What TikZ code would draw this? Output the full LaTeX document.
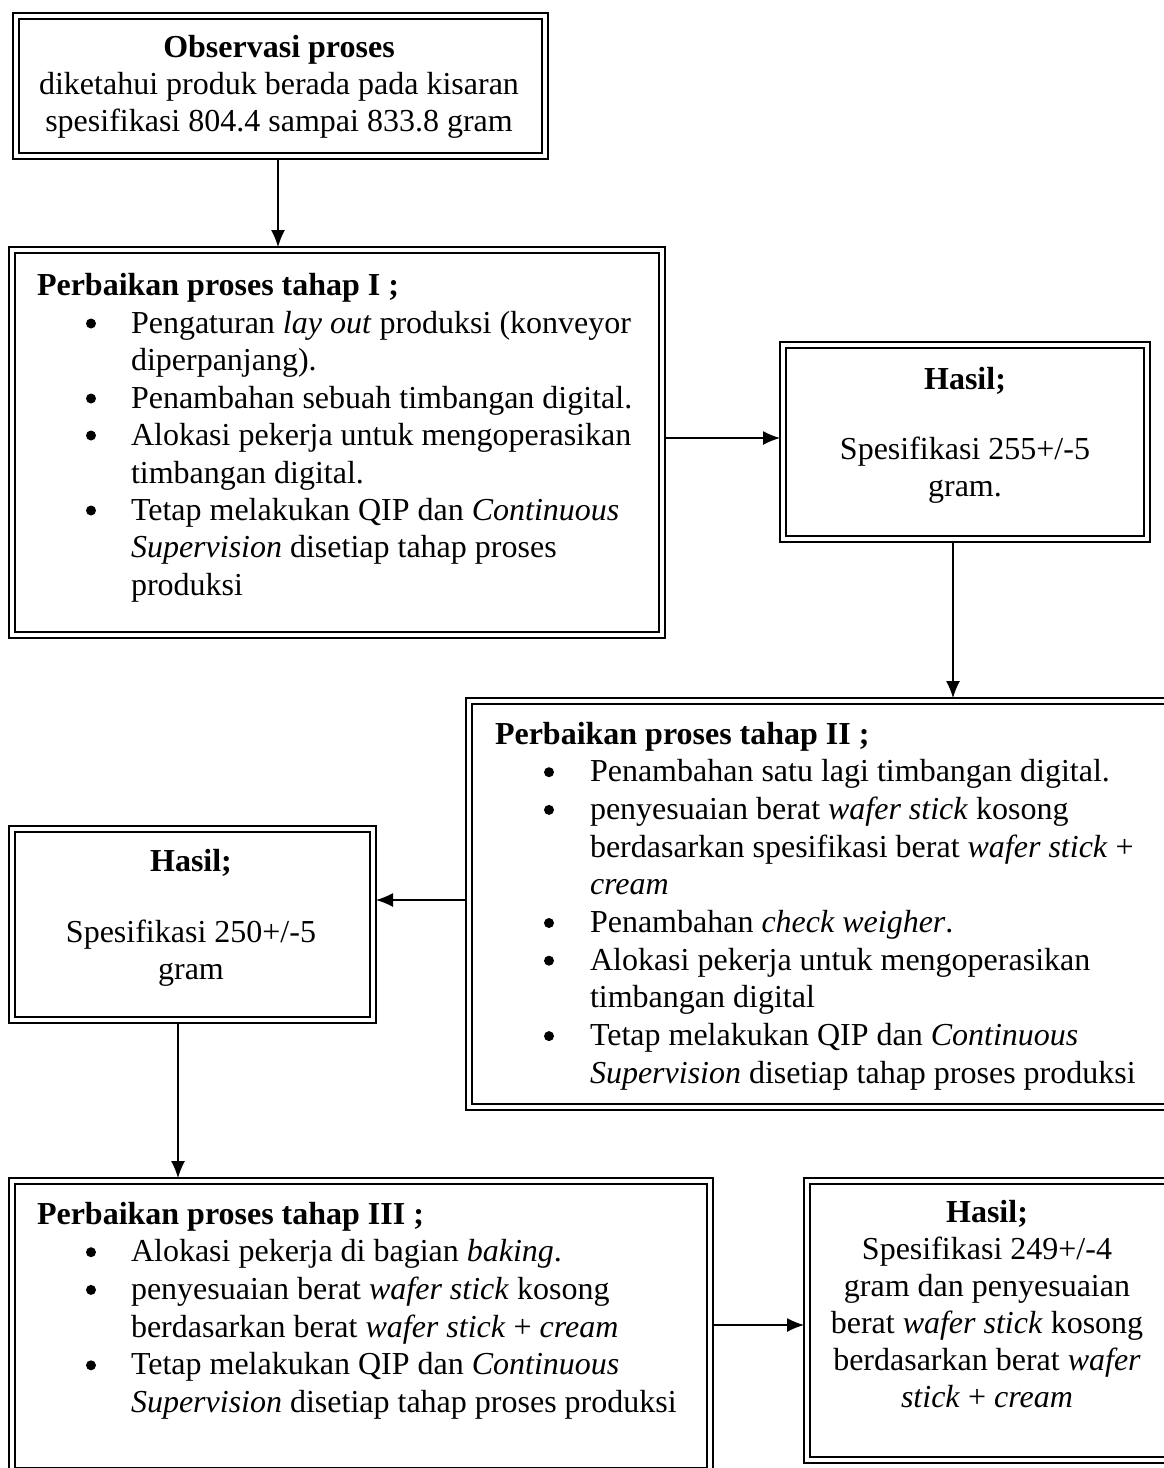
\documentclass[tikz,border=0pt]{standalone}
\usepackage{fontspec}
\setmainfont{Liberation Serif}
\usetikzlibrary{arrows.meta,fit,calc}
\tikzset{
  txt/.style={inner sep=0pt, outer sep=0pt, font=\fontsize{32}{37}\selectfont},
  lt/.style={txt, anchor=base west},
  ct/.style={txt, anchor=base},
  bul/.style={circle, fill=black, inner sep=0pt, minimum size=10pt, yshift=9.5pt},
  frame/.style={inner sep=0pt, outer sep=0pt, draw=none},
  arr/.style={line width=1.3pt, -{Latex[length=17pt,width=14pt]}},
  heavyln/.style={line width=2.4pt, line cap=rect},
  lightln/.style={line width=1.2pt, line cap=rect}
}
\newcommand\dblframe[1]{%
  \draw[heavyln] (#1.south west) -- (#1.north west) -- (#1.north east);
  \draw[lightln] (#1.north east) -- (#1.south east) -- (#1.south west);
  \draw[lightln] ([shift={(6,-6)}]#1.south west) -- ([shift={(6,6)}]#1.north west) -- ([shift={(-6,6)}]#1.north east);
  \draw[heavyln] ([shift={(-6,6)}]#1.north east) -- ([shift={(-6,-6)}]#1.south east) -- ([shift={(6,-6)}]#1.south west);
}
\begin{document}
\begin{tikzpicture}[x=1pt,y=-1pt]
\fill[white] (0,0) rectangle (1163,1468);
\useasboundingbox (0,0) rectangle (1163,1468);

% frames
\node[frame, fit={(13,13) (548,159)}] (b1) {};
\node[frame, fit={(9,247) (665,638)}] (b2) {};
\node[frame, fit={(780,342) (1150,542)}] (h1) {};
\node[frame, fit={(466,698) (1178,1110)}] (b3) {};
\node[frame, fit={(9,826) (376,1023)}] (h2) {};
\node[frame, fit={(9,1178) (713,1474)}] (b4) {};
\node[frame, fit={(804,1178) (1175,1463)}] (h3) {};
\foreach \n in {b1,b2,h1,b3,h2,b4,h3} {\dblframe{\n}}

% connectors
\coordinate (c1) at (278,0);
\coordinate (c2) at (0,438);
\coordinate (c3) at (953,0);
\coordinate (c4) at (0,900);
\coordinate (c5) at (178,0);
\coordinate (c6) at (0,1325);
\draw[arr] (b1.south -| c1) -- (b2.north -| c1);
\draw[arr] (b2.east |- c2) -- (h1.west |- c2);
\draw[arr] (h1.south -| c3) -- (b3.north -| c3);
\draw[arr] (b3.west |- c4) -- (h2.east |- c4);
\draw[arr] (h2.south -| c5) -- (b4.north -| c5);
\draw[arr] (b4.east |- c6) -- (h3.west |- c6);

% box 1
\node[ct] (o1) at (279,57) {\textbf{Observasi proses}};
\node[ct] (o2) at (279,94) {diketahui produk berada pada kisaran};
\node[ct] (o3) at (279,131) {spesifikasi 804.4 sampai 833.8 gram};

% box 2
\node[lt] (p0) at (37,295) {\textbf{Perbaikan proses tahap I ;}};
\node[bul] (pb1) at (91,333) {};
\node[lt] (p1) at (131,333) {Pengaturan \textit{lay out} produksi (konveyor};
\node[lt] (p2) at (131,370) {diperpanjang).};
\node[bul] (pb2) at (91,408) {};
\node[lt] (p3) at (131,408) {Penambahan sebuah timbangan digital.};
\node[bul] (pb3) at (91,445) {};
\node[lt] (p4) at (131,445) {Alokasi pekerja untuk mengoperasikan};
\node[lt] (p5) at (131,483) {timbangan digital.};
\node[bul] (pb4) at (91,520) {};
\node[lt] (p6) at (131,520) {Tetap melakukan QIP dan \textit{Continuous}};
\node[lt] (p7) at (131,557) {\textit{Supervision} disetiap tahap proses};
\node[lt] (p8) at (131,595) {produksi};

% hasil 1
\node[ct] (ha1) at (965,389) {\textbf{Hasil;}};
\node[ct] (ha2) at (965,459) {Spesifikasi 255+/-5};
\node[ct] (ha3) at (965,496) {gram.};

% box 3
\node[lt] (q0) at (495,744) {\textbf{Perbaikan proses tahap II ;}};
\node[bul] (qb1) at (549,781.7) {};
\node[lt] (q1) at (590,781.7) {Penambahan satu lagi timbangan digital.};
\node[bul] (qb2) at (549,819.4) {};
\node[lt] (q2) at (590,819.4) {penyesuaian berat \textit{wafer stick} kosong};
\node[lt] (q3) at (590,857.1) {berdasarkan spesifikasi berat \textit{wafer stick} +};
\node[lt] (q4) at (590,894.8) {\textit{cream}};
\node[bul] (qb3) at (549,932.5) {};
\node[lt] (q5) at (590,932.5) {Penambahan \textit{check weigher}.};
\node[bul] (qb4) at (549,970.2) {};
\node[lt] (q6) at (590,970.2) {Alokasi pekerja untuk mengoperasikan};
\node[lt] (q7) at (590,1007.9) {timbangan digital};
\node[bul] (qb5) at (549,1045.6) {};
\node[lt] (q8) at (590,1045.6) {Tetap melakukan QIP dan \textit{Continuous}};
\node[lt] (q9) at (590,1083.3) {\textit{Supervision} disetiap tahap proses produksi};

% hasil 2
\node[ct] (hb1) at (191,871) {\textbf{Hasil;}};
\node[ct] (hb2) at (191,942) {Spesifikasi 250+/-5};
\node[ct] (hb3) at (191,979) {gram};

% box 4
\node[lt] (r0) at (37,1224) {\textbf{Perbaikan proses tahap III ;}};
\node[bul] (rb1) at (91,1261.7) {};
\node[lt] (r1) at (131,1261.7) {Alokasi pekerja di bagian \textit{baking}.};
\node[bul] (rb2) at (91,1299.4) {};
\node[lt] (r2) at (131,1299.4) {penyesuaian berat \textit{wafer stick} kosong};
\node[lt] (r3) at (131,1337.1) {berdasarkan berat \textit{wafer stick} + \textit{cream}};
\node[bul] (rb3) at (91,1374.8) {};
\node[lt] (r4) at (131,1374.8) {Tetap melakukan QIP dan \textit{Continuous}};
\node[lt] (r5) at (131,1412.5) {\textit{Supervision} disetiap tahap proses produksi};

% hasil 3
\node[ct] (hc1) at (987,1222) {\textbf{Hasil;}};
\node[ct] (hc2) at (987,1259) {Spesifikasi 249+/-4};
\node[ct] (hc3) at (987,1296) {gram dan penyesuaian};
\node[ct] (hc4) at (987,1333) {berat \textit{wafer stick} kosong};
\node[ct] (hc5) at (987,1370) {berdasarkan berat \textit{wafer}};
\node[ct] (hc6) at (987,1407) {\textit{stick} + \textit{cream}};
\end{tikzpicture}
\end{document}
